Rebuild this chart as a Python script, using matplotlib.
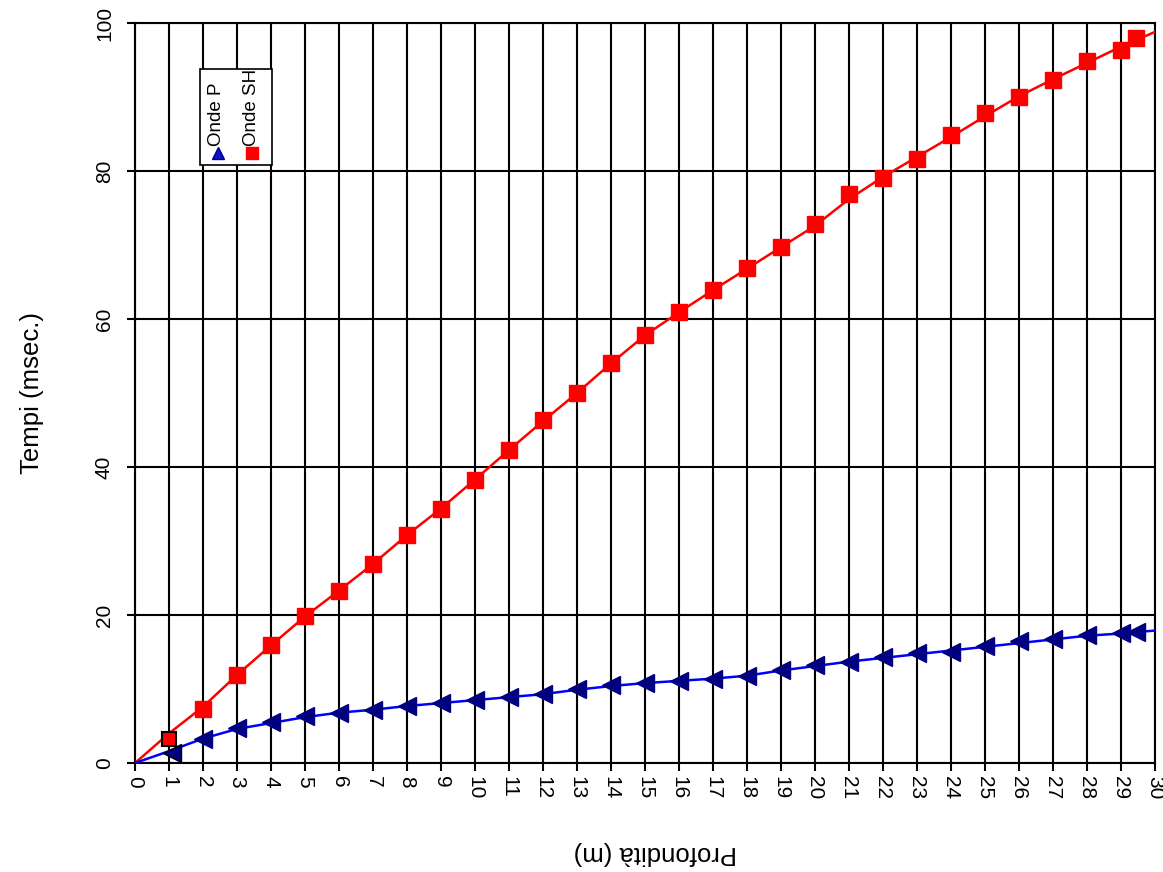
import numpy as np
import matplotlib.pyplot as plt

plt.rcParams['font.family'] = ['Liberation Sans', 'DejaVu Sans']

# depth (m) of the measured points
depth = [2, 3, 4, 5, 6, 7, 8, 9, 10, 11, 12, 13, 14, 15, 16, 17, 18, 19, 20,
         21, 22, 23, 24, 25, 26, 27, 28, 29, 29.45]
# P wave travel times (msec)
t_p = [3.3, 4.7, 5.5, 6.3, 6.8, 7.2, 7.7, 8.1, 8.5, 8.9, 9.3, 10.0, 10.5, 10.8,
       11.1, 11.3, 11.7, 12.6, 13.2, 13.7, 14.3, 14.8, 15.0, 15.8, 16.5, 16.7,
       17.3, 17.6, 17.7]
# SH wave travel times (msec)
t_sh = [7.3, 11.9, 15.9, 19.9, 23.2, 26.9, 30.8, 34.3, 38.3, 42.3, 46.3, 50.0,
        54.0, 57.9, 60.9, 63.9, 66.9, 69.7, 72.8, 76.9, 79.1, 81.6, 84.8, 87.8,
        90.0, 92.3, 94.8, 96.4, 98.0]

# first geophone (highlighted points)
first_p = (1.08, 1.3)
first_sh = (1.0, 3.2)

# model curves
line_x = [0, 1, 2, 3, 4, 5, 6, 7, 8, 9, 10, 11, 12, 13, 14, 15, 16, 17, 18, 19,
          20, 21, 22, 23, 24, 25, 26, 27, 28, 29, 30]
line_p = [0, 1.6, 3.3, 4.6, 5.4, 6.2, 6.8, 7.2, 7.7, 8.1, 8.5, 8.9, 9.3, 9.9,
          10.4, 10.8, 11.1, 11.4, 11.8, 12.5, 13.1, 13.7, 14.2, 14.7, 15.2,
          15.7, 16.2, 16.7, 17.2, 17.5, 17.9]
line_sh = [0, 4.0, 7.6, 11.9, 15.9, 19.8, 23.3, 26.9, 30.8, 34.4, 38.3, 42.3,
           46.2, 50.0, 54.0, 57.8, 60.9, 63.9, 66.8, 69.7, 72.6, 76.2, 79.2,
           81.9, 84.6, 87.4, 90.1, 92.4, 94.6, 96.8, 98.8]

fig = plt.figure(figsize=(11.63, 8.72), dpi=100)
ax = fig.add_axes([0.1161, 0.125, 0.877, 0.8486])

ax.plot(line_x, line_sh, c='#ff0000', lw=1.8, zorder=3)
ax.plot(line_x, line_p, c='#0000ff', lw=1.8, zorder=3)

ax.plot(depth, t_sh, ls='none', marker='s', ms=11, mfc='#ff0000',
        mec='#ff0000', zorder=4)
ax.plot(depth, t_p, ls='none', marker='<', ms=13, mfc='#000080',
        mec='#000080', zorder=4)
ax.plot(*first_sh, marker='s', ms=10, mfc='#ff0000', mec='black', mew=1.5,
        zorder=5)
ax.plot(*first_p, marker='<', ms=13, mfc='#000080', mec='black', mew=1.0,
        zorder=4)

ax.set_xlim(0, 30)
ax.set_ylim(0, 100)
ax.set_xticks(np.arange(0, 31, 1))
ax.set_yticks(np.arange(0, 101, 20))
ax.grid(True, color='black', lw=1.5)
ax.set_axisbelow(True)
for s in ax.spines.values():
    s.set_linewidth(1.5)
ax.tick_params(axis='both', length=6, width=1.5, labelsize=15)
ax.tick_params(axis='x', pad=3)
ax.tick_params(axis='y', pad=16)
plt.setp(ax.get_xticklabels(), rotation=270, va='top', ha='center')
plt.setp(ax.get_yticklabels(), rotation=90, va='center', ha='center')

ax.set_xlabel('Profondità (m)', fontsize=18.5, rotation=180, va='center')
ax.xaxis.set_label_coords(0.51, -0.121)
ax.set_ylabel('Tempi (msec.)', fontsize=18.5, labelpad=37)

# legend drawn by hand (rotated text)
box = plt.Rectangle((0.064, 0.808), 0.07, 0.13, transform=ax.transAxes,
                    fc='white', ec='black', lw=1.2, zorder=6)
ax.add_patch(box)
ax.plot(0.081, 0.825, transform=ax.transAxes, marker='^', ms=9,
        mfc='#1010c8', mec='#000080', zorder=7, clip_on=False)
ax.plot(0.115, 0.825, transform=ax.transAxes, marker='s', ms=8,
        mfc='#ff0000', mec='#ff0000', zorder=7, clip_on=False)
ax.text(0.080, 0.834, 'Onde P', transform=ax.transAxes, rotation=90,
        ha='center', va='bottom', fontsize=13.5, zorder=7)
ax.text(0.114, 0.834, 'Onde SH', transform=ax.transAxes, rotation=90,
        ha='center', va='bottom', fontsize=13.5, zorder=7)

fig.savefig('out.png', dpi=100)
